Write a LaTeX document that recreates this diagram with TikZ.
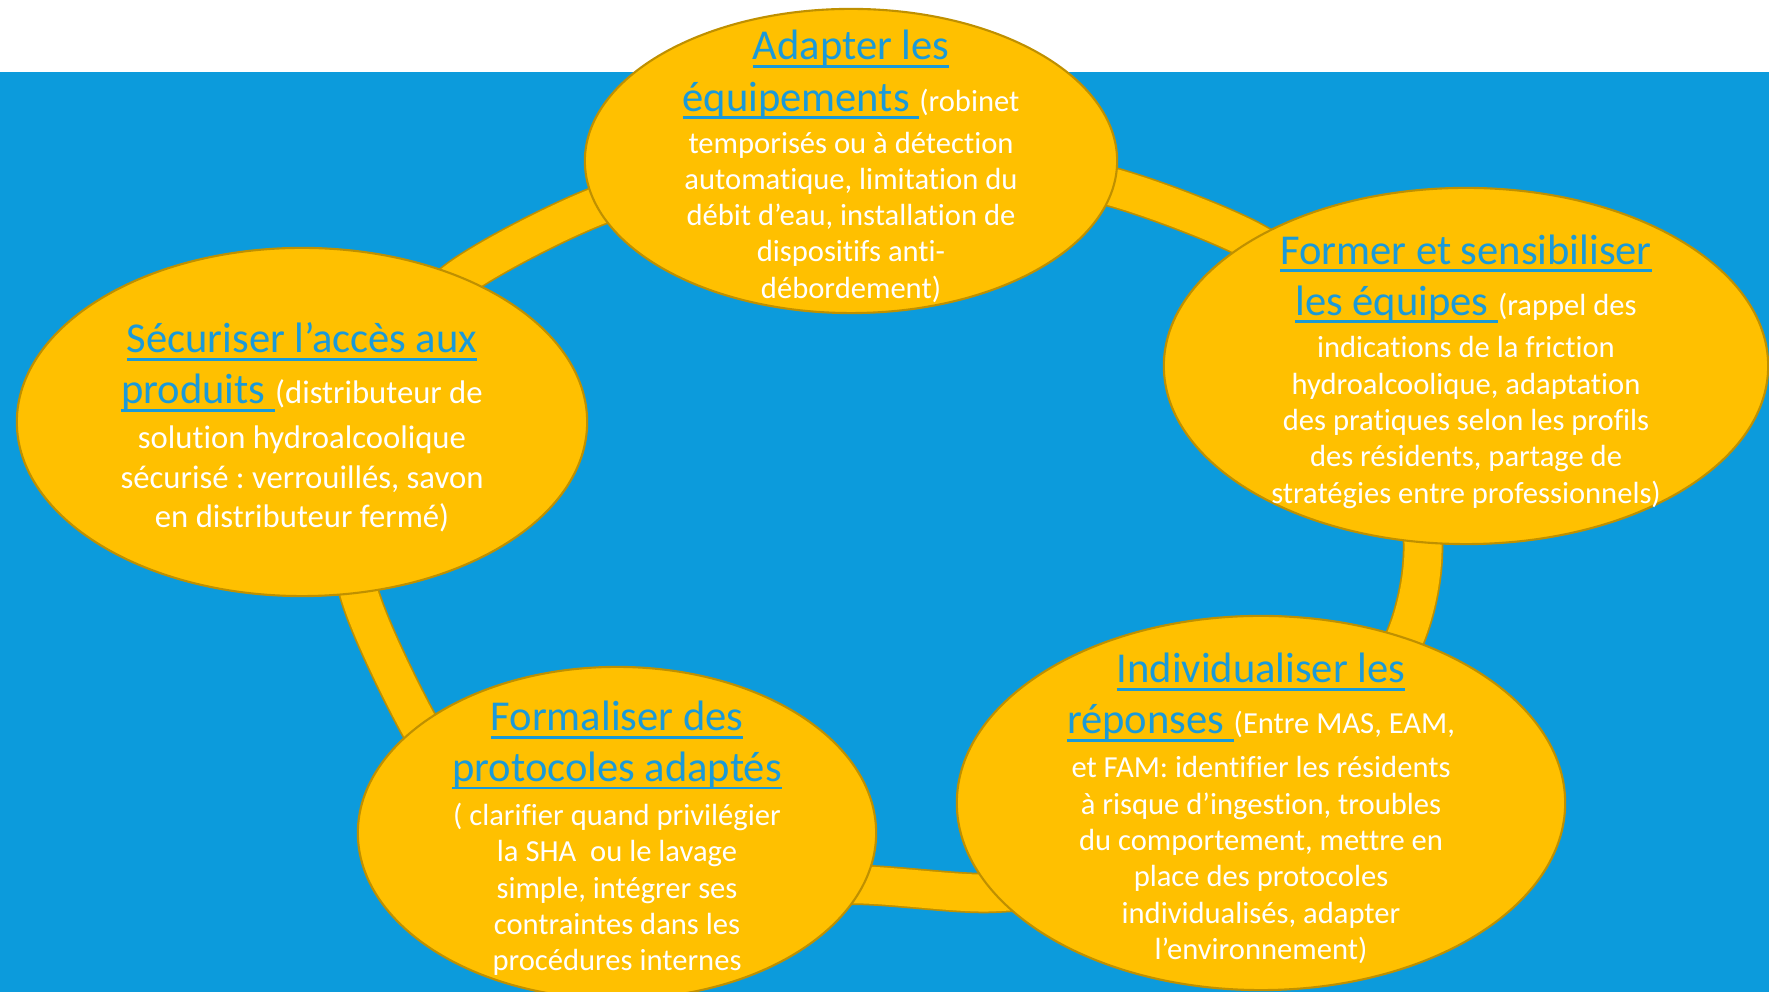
\documentclass[tikz,border=0pt]{standalone}
\usepackage{fontspec}
\setmainfont{Carlito}[Ligatures=NoCommon]
\usetikzlibrary{shapes.geometric}
\frenchspacing

\definecolor{bgblue}{HTML}{0C9BDC}
\definecolor{gold}{HTML}{FFC000}
\definecolor{goldline}{HTML}{BF9000}
\definecolor{headblue}{HTML}{1A9AD9}

% underlined blue heading words
\newcommand{\hd}[1]{{\fontsize{12.1}{14.5}\selectfont\color{headblue}%
	\setbox0\hbox{#1}\rlap{\rule[-2.3pt]{\wd0}{0.8pt}}\box0}}

\begin{document}
\begin{tikzpicture}[x=0.01cm, y=-0.01cm,
			main node/.style={ellipse,draw=goldline,fill=gold,line width=0.6pt,inner sep=0pt},
			label node/.style={align=center,text=white,inner sep=0pt,yshift=-0.055cm,
				font={\fontsize{8.7}{10.33}\selectfont\lineskiplimit=-50pt}}]
			
			\useasboundingbox (0,0) rectangle (1769,992);
			\fill[white] (0,0) rectangle (1769,72);
			\fill[bgblue] (0,72) rectangle (1769,992);
			
			% ring behind the ellipses
			\foreach \w/\c in {0.405cm/goldline, 0.37cm/gold}
			\draw[\c, line width=\w] plot[smooth cycle] coordinates {
				(460,278) (598,206) (730,175) (860,165) (990,170) (1112,187)
				(1252,241) (1340,310) (1400,410) (1423,543) (1405,638)
				(1340,745) (1200,840) (1090,880) (988,893) (864,885)
				(720,884) (580,862) (480,810) (420,727) (359,593)
				(345,470) (385,360)};
			
			\node[main node, minimum width=5.32cm, minimum height=3.04cm] (1) at (851,161) {};
			\node[main node, minimum width=6.04cm, minimum height=3.56cm] (2) at (1466,366) {};
			\node[main node, minimum width=5.70cm, minimum height=3.48cm] (3) at (302,422) {};
			\node[main node, minimum width=6.08cm, minimum height=3.74cm] (4) at (1261,803) {};
			\node[main node, minimum width=5.18cm, minimum height=3.32cm] (5) at (617,833) {};
			
			\node[label node] (t1) at (1) {\hd{Adapter les}\\[4.2pt]
				\hd{équipements\ }(robinet\\[1.6pt]
				temporisés ou à détection\\
				automatique, limitation du\\
				débit d’eau, installation de\\
				dispositifs anti-\\
				débordement)};
			\node[label node] (t2) at (2) {\hd{Former et sensibiliser}\\[4.2pt]
				\hd{les équipes\ }(rappel des\\[1.8pt]
				indications de la friction\\
				hydroalcoolique, adaptation\\
				des pratiques selon les profils\\
				des résidents, partage de\\
				stratégies entre professionnels)};
			\node[label node, font={\fontsize{9.3}{11.24}\selectfont\lineskiplimit=-50pt}] (t3) at (3)
				{\hd{Sécuriser l’accès aux}\\[3.3pt]
				\hd{produits\ }(distributeur de\\[1.6pt]
				solution hydroalcoolique\\
				sécurisé : verrouillés, savon\\
				en distributeur fermé)};
			\node[label node] (t4) at (4) {\hd{Individualiser les}\\[4.2pt]
				\hd{réponses\ }(Entre MAS, EAM,\\[2.2pt]
				et FAM: identifier les résidents\\
				à risque d’ingestion, troubles\\
				du comportement, mettre en\\
				place des protocoles\\
				individualisés, adapter\\
				l’environnement)};
			\node[label node] (t5) at (5) {\hd{Formaliser des}\\[4.0pt]
				\hd{protocoles adaptés}\\[2.2pt]
				( clarifier quand privilégier\\
				la SHA~ ou le lavage\\
				simple, intégrer ses\\
				contraintes dans les\\
				procédures internes};
			
		\end{tikzpicture}
\end{document}
